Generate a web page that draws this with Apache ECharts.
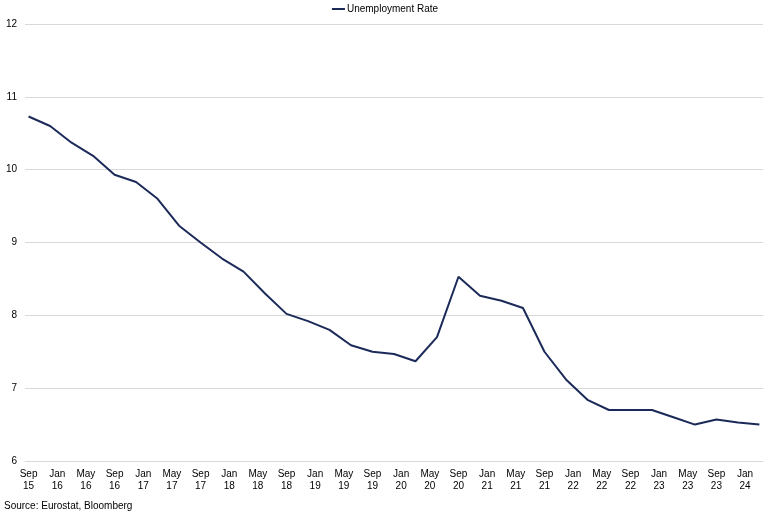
<!DOCTYPE html>
<html>
<head>
<meta charset="utf-8">
<script src="https://cdn.jsdelivr.net/npm/echarts@6/dist/echarts.min.js"></script>
<style>
  html, body { margin: 0; padding: 0; background: #fff; }
  #main { width: 770px; height: 513px; }
</style>
</head>
<body>
<div id="main"></div>
<script>
// Quarterly readings (Sep 15 .. Mar 24)
var quarters = [
  'Sep 15','Dec 15','Mar 16','Jun 16','Sep 16','Dec 16','Mar 17','Jun 17',
  'Sep 17','Dec 17','Mar 18','Jun 18','Sep 18','Dec 18','Mar 19','Jun 19',
  'Sep 19','Dec 19','Mar 20','Jun 20','Sep 20','Dec 20','Mar 21','Jun 21',
  'Sep 21','Dec 21','Mar 22','Jun 22','Sep 22','Dec 22','Mar 23','Jun 23',
  'Sep 23','Dec 23','Mar 24'
];
var unemployment = [
  10.73, 10.60, 10.37, 10.19, 9.93, 9.83, 9.60, 9.23,
  9.00, 8.78, 8.60, 8.30, 8.02, 7.92, 7.80, 7.59,
  7.50, 7.47, 7.37, 7.70, 8.53, 8.27, 8.20, 8.10,
  7.50, 7.12, 6.84, 6.70, 6.70, 6.70, 6.60, 6.50,
  6.57, 6.53, 6.50
];
var monthNames = ['Jan','Feb','Mar','Apr','May','Jun','Jul','Aug','Sep','Oct','Nov','Dec'];
var yTicks = { min: 6, max: 12, interval: 1 };

// monthly category axis so labels can fall every 4 months
var months = [];
var monthly = [];
var lookup = {};
quarters.forEach(function (q, i) { lookup[q] = unemployment[i]; });
var m = 8, yr = 15; // Sep 2015
while (true) {
  var key = monthNames[m] + ' ' + (yr < 10 ? '0' + yr : yr);
  months.push(key);
  monthly.push(lookup.hasOwnProperty(key) ? lookup[key] : null);
  if (key === 'Mar 24') break;
  m++;
  if (m > 11) { m = 0; yr++; }
}

var chartDom = document.getElementById('main');
var myChart = echarts.init(chartDom);

var option = {
  animation: false,
  textStyle: { fontFamily: 'Liberation Sans, Arial, sans-serif' },
  legend: {
    data: ['Unemployment Rate'],
    left: 'center',
    top: -1,
    itemWidth: 13,
    itemHeight: 2,
    itemGap: 2,
    icon: 'rect',
    textStyle: { fontSize: 10, color: '#000', padding: [0, 0, 0, -3] }
  },
  graphic: [{
    type: 'text',
    left: 4,
    top: 501,
    style: {
      text: 'Source: Eurostat, Bloomberg',
      fontSize: 10,
      fill: '#000',
      fontFamily: 'Liberation Sans, Arial, sans-serif'
    }
  }],
  grid: { left: 25, right: 7, top: 24, bottom: 52 },
  xAxis: {
    type: 'category',
    data: months,
    boundaryGap: true,
    axisLine: { lineStyle: { color: '#d9d9d9', width: 1 } },
    axisTick: { interval: 3, length: 4, lineStyle: { color: '#d9d9d9' } },
    axisLabel: {
      interval: 3,
      fontSize: 10,
      color: '#000',
      lineHeight: 12,
      margin: 7,
      formatter: function (v) { return v.replace(' ', '\n'); }
    },
    splitLine: { show: false }
  },
  yAxis: {
    type: 'value',
    min: yTicks.min,
    max: yTicks.max,
    interval: yTicks.interval,
    axisLine: { show: false },
    axisTick: { show: false },
    axisLabel: { fontSize: 10, color: '#000', margin: 8 },
    splitLine: { lineStyle: { color: '#d9d9d9', width: 1 } }
  },
  series: [{
    name: 'Unemployment Rate',
    type: 'line',
    data: monthly,
    connectNulls: true,
    showSymbol: false,
    symbol: 'none',
    lineStyle: { color: '#1c2a5a', width: 2 },
    itemStyle: { color: '#1c2a5a' }
  }]
};

myChart.setOption(option);
window.addEventListener('resize', function () { myChart.resize(); });
</script>
</body>
</html>
